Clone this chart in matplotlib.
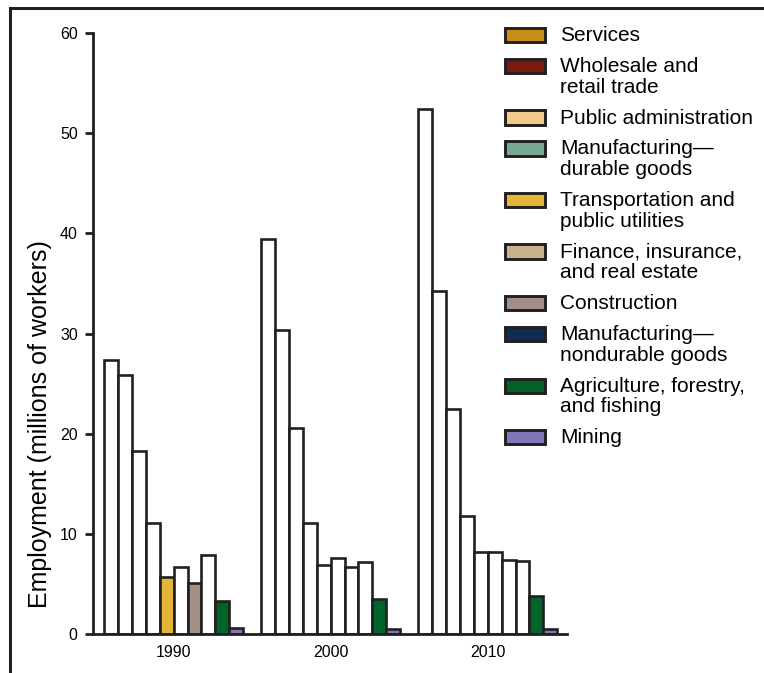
import matplotlib.pyplot as plt
from matplotlib.patches import Rectangle
from matplotlib.lines import Line2D

plt.rcParams['font.family'] = ['Liberation Sans', 'DejaVu Sans']

# данные: занятость по отраслям, млн работников
years = ['1990', '2000', '2010']
sectors = ['Services', 'Wholesale and\nretail trade', 'Public administration',
           'Manufacturing—\ndurable goods', 'Transportation and\npublic utilities',
           'Finance, insurance,\nand real estate', 'Construction',
           'Manufacturing—\nnondurable goods', 'Agriculture, forestry,\nand fishing',
           'Mining']
emp_1990 = [27.4, 25.9, 18.3, 11.1, 5.7, 6.7, 5.1, 7.9, 3.3, 0.6]
emp_2000 = [39.4, 30.3, 20.6, 11.1, 6.9, 7.6, 6.7, 7.2, 3.5, 0.5]
emp_2010 = [52.4, 34.2, 22.5, 11.8, 8.2, 8.2, 7.4, 7.3, 3.8, 0.5]

colors = ['#C98E1A', '#7A1A0E', '#F2C98A', '#76A892', '#E3B53B',
          '#C9B08C', '#A09085', '#0F2C55', '#006428', '#7F77B8']
# в оригинале часть столбцов не закрашена
filled = [
    [False, False, False, False, True, False, True, False, True, True],
    [False, False, False, False, False, False, False, False, True, True],
    [False, False, False, False, False, False, False, False, True, True],
]

W, H = 764, 673
fig = plt.figure(figsize=(W / 100, H / 100), dpi=100)
ax = fig.add_axes([93 / W, 1 - 634 / H, (567 - 93) / W, (634 - 33) / H])

edge = '#231F20'
group_step = 11.3
first_left = 0.8
for g, values in enumerate([emp_1990, emp_2000, emp_2010]):
    for i, v in enumerate(values):
        fc = colors[i] if filled[g][i] else 'white'
        ax.bar(first_left + g * group_step + i, v, width=1, align='edge',
               color=fc, edgecolor=edge, linewidth=1.9, zorder=2)

ax.set_xlim(0, 34.1)
ax.set_ylim(0, 60)
ax.set_yticks(range(0, 61, 10))
ax.set_xticks([first_left + g * group_step + 5 for g in range(3)])
ax.set_xticklabels(years)
ax.tick_params(axis='y', length=6, width=2, color=edge, pad=5, labelsize=11.5)
ax.tick_params(axis='x', length=0, pad=8, labelsize=11.5)
for s in ['top', 'right']:
    ax.spines[s].set_visible(False)
for s in ['left', 'bottom']:
    ax.spines[s].set_linewidth(2)
    ax.spines[s].set_color(edge)
    ax.spines[s].set_zorder(3)

fig.text(40 / W, 1 - 424 / H, 'Employment (millions of workers)',
         rotation=90, ha='center', va='center', fontsize=18)

# легенда вручную, как в оригинале
y = 35
for i, name in enumerate(sectors):
    fig.add_artist(Rectangle((505 / W, 1 - (y + 7) / H), 40 / W, 14 / H,
                             transform=fig.transFigure, facecolor=colors[i],
                             edgecolor=edge, linewidth=2.1))
    fig.text(560 / W, 1 - (y - 9) / H, name, ha='left', va='top',
             fontsize=15, linespacing=1.12)
    y += 31 + 20.5 * name.count('\n')

# рамка слева и сверху
fig.add_artist(Line2D([10 / W, 10 / W], [0, 1 - 8 / H], transform=fig.transFigure,
                      color=edge, linewidth=2.2))
fig.add_artist(Line2D([10 / W, 1], [1 - 8 / H, 1 - 8 / H], transform=fig.transFigure,
                      color=edge, linewidth=2.2))

fig.savefig('out.png', dpi=100)
